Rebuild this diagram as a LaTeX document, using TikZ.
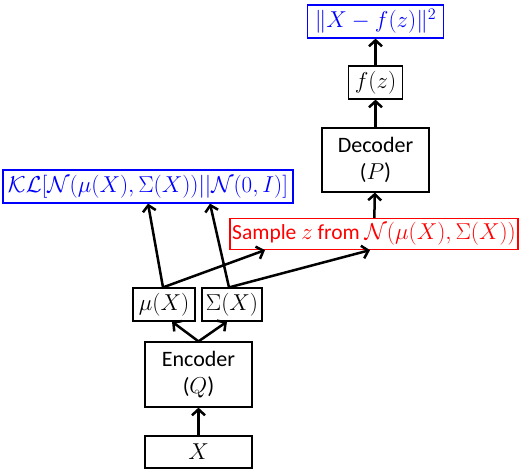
\RequirePackage{fix-cm}
\documentclass[tikz,border=0pt]{standalone}
\usepackage{fontspec}
\setmainfont{Carlito}
\usetikzlibrary{arrows.meta,calc}

\newcommand{\mfont}{\fontsize{23}{26}\selectfont}

\begin{document}
\begin{tikzpicture}[x=1pt, y=-1pt,
        box/.style={draw, line width=1.2pt, inner sep=0pt, align=center,
            font=\fontsize{22}{27}\selectfont},
        mathbox/.style={box, font=\mfont},
        bluebox/.style={mathbox, draw=blue, text=blue},
        redbox/.style={box, draw=red, text=red},
        flow/.style={-{Straight Barb[length=6pt,width=13pt,line width=2.5pt]}, line width=2.5pt}]
    \useasboundingbox (0,0) rectangle (527,476);

    % Encoder side
    \node[mathbox, minimum width=107, minimum height=32] (x) at (198.5,452) {$X$};
    \node[box, minimum width=107, minimum height=65] (enc) at (198.5,374.5) {Encoder\\(\mfont$Q$)};
    \node[mathbox, minimum width=62, minimum height=33] (mu) at (164,304.5) {$\mu(X)$};
    \node[mathbox, minimum width=60, minimum height=33] (sig) at (232,304.5) {$\Sigma(X)$};

    % Losses and sampling
    \node[bluebox, minimum width=290, minimum height=33] (kl) at (148,186.5)
        {$\mathcal{KL}[\mathcal{N}(\mu(X),\Sigma(X))||\mathcal{N}(0,I)]$};
    \node[redbox, minimum width=288, minimum height=31, font=\fontsize{21.5}{26}\selectfont] (samp) at (374,234)
        {Sample {\mfont$z$} from {\mfont$\mathcal{N}(\mu(X),\Sigma(X))$}};

    % Decoder side
    \node[box, minimum width=107, minimum height=64] (dec) at (375.5,160) {Decoder\\(\mfont$P$)};
    \node[mathbox, minimum width=54, minimum height=33] (fz) at (375.5,82.5) {$f(z)$};
    \node[bluebox, minimum width=136, minimum height=33] (loss) at (375.5,21.5) {$\|X-f(z)\|^2$};

    % Pontas
    \coordinate (mutop) at ($(mu.north)+(-1,0)$);
    \coordinate (sigtop) at ($(sig.north)+(-3,0)$);

    % Setas
    \draw[flow] (x) -- (enc);
    \draw[flow] (enc.north) -- ($(mu.south)+(8,0)$);
    \draw[flow] (enc.north) -- ($(sig.south)+(-5,0)$);
    \draw[flow] (mutop) -- ($(kl.south)+(0,0)$);
    \draw[flow] (sigtop) -- ($(kl.south)+(62,0)$);
    \draw[flow] (mutop) -- ($(samp.south)+(-109,0)$);
    \draw[flow] (sigtop) -- ($(samp.south)+(-4,0)$);
    \draw[flow] (samp) -- (dec);
    \draw[flow] (dec) -- (fz);
    \draw[flow] (fz) -- (loss);
\end{tikzpicture}
\end{document}
